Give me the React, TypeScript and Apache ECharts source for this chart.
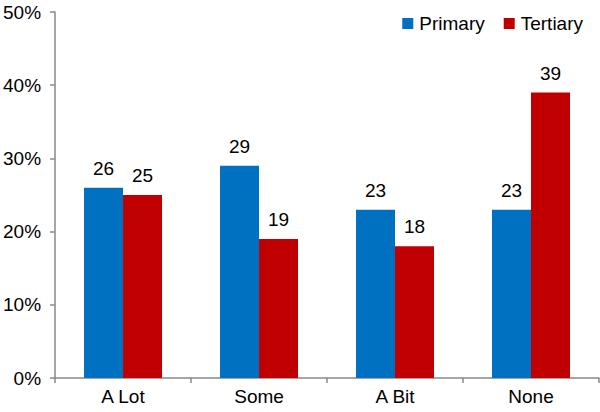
import React, { useEffect, useRef } from "react";
import * as echarts from "echarts";

const categories = ["A Lot", "Some", "A Bit", "None"];
const primary = [26, 29, 23, 23];
const tertiary = [25, 19, 18, 39];
const yTicks = [0, 10, 20, 30, 40, 50];

export default function App() {
  const ref = useRef<HTMLDivElement>(null);
  useEffect(() => {
    const chart = echarts.init(ref.current!, null, { renderer: "svg" });
    const font = "'Liberation Sans', Arial, Helvetica, sans-serif";
    const fs = 19;
    chart.setOption({
      animation: false,
      textStyle: { fontFamily: font },
      grid: { left: 52, right: 1, top: 12, bottom: 34, containLabel: false },
      legend: {
        right: 12,
        top: 9,
        itemWidth: 11,
        itemHeight: 11,
        itemGap: 19,
        icon: "rect",
        textStyle: { fontSize: fs, color: "#000", fontFamily: font, padding: [0, 0, 0, 1] },
        data: ["Primary", "Tertiary"],
      },
      xAxis: {
        type: "category",
        data: categories,
        axisLine: { lineStyle: { color: "#888", width: 1.5 } },
        axisTick: { show: true, length: 5, alignWithLabel: false, lineStyle: { color: "#888", width: 1.5 } },
        axisLabel: { fontSize: fs, color: "#000", margin: 9, fontFamily: font },
      },
      yAxis: {
        type: "value",
        min: yTicks[0],
        max: yTicks[yTicks.length - 1],
        interval: 10,
        axisLine: { show: true, lineStyle: { color: "#888", width: 1.5 } },
        axisTick: { show: true, length: 5, lineStyle: { color: "#888", width: 1.5 } },
        splitLine: { show: false },
        axisLabel: { fontSize: fs, color: "#000", margin: 14, formatter: "{value}%", fontFamily: font },
      },
      series: [
        {
          name: "Primary",
          type: "bar",
          data: primary,
          barWidth: 39,
          barGap: "0%",
          itemStyle: { color: "#0070C0" },
          label: { show: true, position: "top", fontSize: fs, color: "#000", distance: 10, fontFamily: font },
        },
        {
          name: "Tertiary",
          type: "bar",
          data: tertiary,
          barWidth: 39,
          barGap: "0%",
          itemStyle: { color: "#C00000" },
          label: { show: true, position: "top", fontSize: fs, color: "#000", distance: 10, fontFamily: font },
        },
      ],
    });
    return () => chart.dispose();
  }, []);
  return <div ref={ref} style={{ width: 600, height: 412, position: "absolute", left: 0, top: 0 }} />;
}
